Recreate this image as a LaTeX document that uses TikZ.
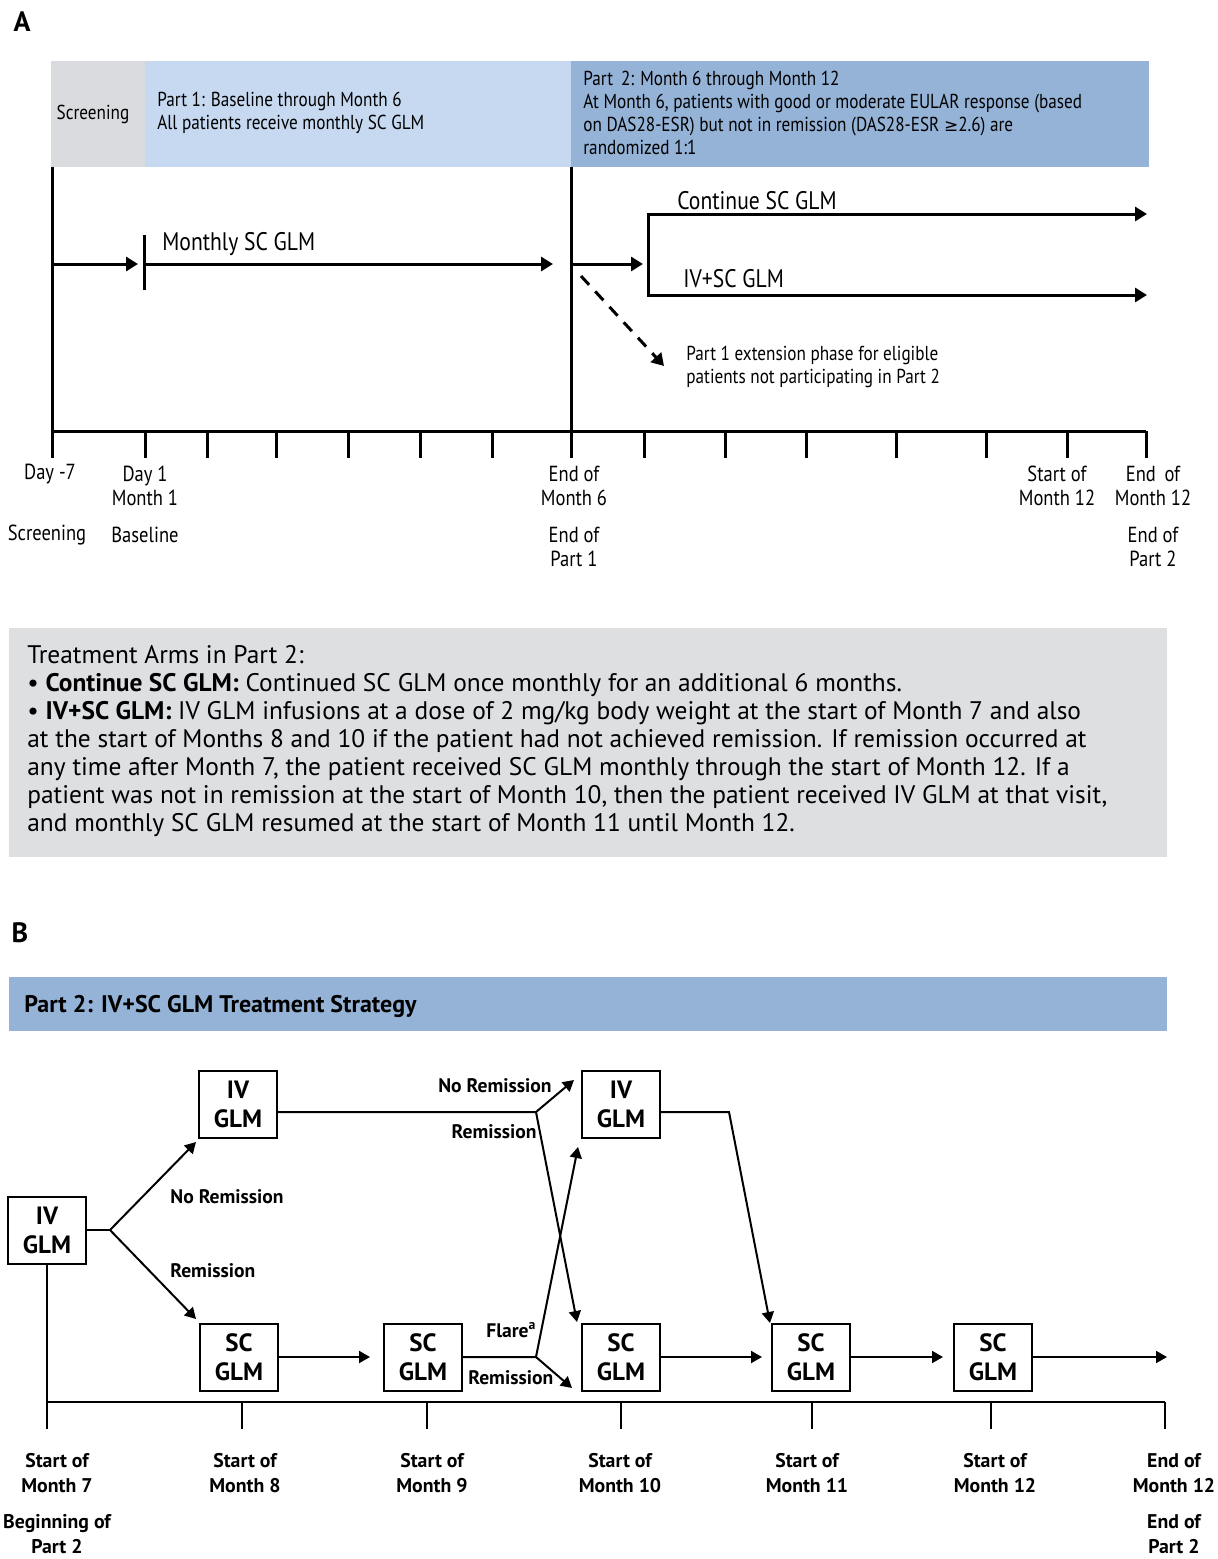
\documentclass[tikz,border=0pt]{standalone}
\usepackage{fontspec}
\setmainfont{PT Sans}[FakeStretch=0.85]
\newfontfamily\widefont{PT Sans}
\newfontfamily\symbfont{DejaVu Sans}
\usetikzlibrary{arrows.meta,positioning}
\definecolor{scrgray}{RGB}{217,219,222}
\definecolor{partone}{RGB}{198,217,240}
\definecolor{parttwo}{RGB}{149,179,215}
\definecolor{notegray}{RGB}{221,223,225}

\begin{document}
\begin{tikzpicture}[
    x=0.5pt, y=-0.5pt,
    thk/.style={line width=1.5pt},
    arrA/.style={thk, -{Triangle[length=6pt,width=7pt]}},
    lineB/.style={line width=1pt},
    arrB/.style={lineB, -{Triangle[length=5.5pt,width=6pt]}},
    box/.style={draw, line width=1pt, fill=white, minimum width=39pt, minimum height=33.5pt,
        align=center, inner sep=0pt, font=\widefont\fontsize{12.5}{14.5}\selectfont\bfseries},
    hdr/.style={inner sep=0pt, align=left, font=\fontsize{10.1}{11.5}\selectfont},
    big/.style={inner sep=0pt, font=\fontsize{12.7}{14}\selectfont},
    ticklbl/.style={inner sep=0pt, align=center, font=\fontsize{10.9}{12.3}\selectfont},
    bticklbl/.style={inner sep=0pt, align=center, font=\widefont\fontsize{9.9}{12.3}\selectfont\bfseries},
    cond/.style={inner sep=0pt, font=\widefont\fontsize{9.8}{11}\selectfont\bfseries},
    panel/.style={inner sep=0pt, font=\widefont\fontsize{14}{16}\selectfont\bfseries}
]
\useasboundingbox (0,0) rectangle (1218,1559);

% ---------- panel A ----------
\node[panel] (pA) at (22,22) {A};

% phase bars
\fill[scrgray] (51,61) rectangle (145,167);
\fill[partone] (145,61) rectangle (571,167);
\fill[parttwo] (571,61) rectangle (1149,167);
\node[hdr] (scr) at (93,114) {Screening};
\node[hdr, anchor=west] (p1) at (157,113) {Part 1: Baseline through Month 6\\All patients receive monthly SC GLM};
\node[hdr, anchor=west] (p2) at (583,113) {Part\, 2: Month 6 through Month 12\\
    At Month 6, patients with good or moderate EULAR response (based\\
    on DAS28-ESR) but not in remission (DAS28-ESR {\symbfont\fontsize{8.5}{10}\selectfont ≥}2.6) are\\
    randomized 1:1};

% timeline
\coordinate (ax0) at (52,431);
\coordinate (ax1) at (1146,431);
\draw[thk] (52,167) -- (52,458);
\draw[thk] (571,167) -- (571,458);
\draw[thk] (ax0) -- (ax1);
\foreach \x [count=\i] in {145,207,276,348,420,492,644,725,806,896,986,1067,1146}
    \draw[thk] (\x,431) coordinate (t\i) -- (\x,458);

% part 1 arrows
\coordinate (s0) at (52,264);
\coordinate (b0) at (144,264);
\coordinate (e6) at (553,264);
\draw[arrA] (s0) -- ([xshift=-3pt]b0);
\draw[thk] (144,235) coordinate (bt) -- (144,290) coordinate (bb);
\draw[arrA] (b0) -- (e6);
\node[big, anchor=west] (msc) at (162,244) {Monthly SC GLM};

% part 2 arrows
\coordinate (m6) at (571,264);
\coordinate (sp) at (648,264);
\coordinate (cu) at (648,214);
\coordinate (iu) at (648,295);
\coordinate (ce) at (1147,214);
\coordinate (ie) at (1147,295);
\draw[arrA] (m6) -- ([xshift=-2.5pt]sp);
\draw[thk, {Triangle[length=6pt,width=7pt]}-{Triangle[length=6pt,width=7pt]}] (ce) -- (cu) -- (iu) -- (ie);
\node[big, anchor=west] (csc) at (677,201) {Continue SC GLM};
\node[big, anchor=west] (ivsc) at (683,279) {IV+SC GLM};

% extension
\coordinate (x0) at (581,276);
\coordinate (x1) at (664,366);
\draw[arrA, dash pattern=on 6pt off 4.5pt] (x0) -- (x1);
\node[hdr, anchor=west] (ext) at (686,367) {Part 1 extension phase for eligible\\patients not participating in Part 2};

% tick labels
\node[ticklbl] (l1) at (50,474) {Day -7};
\node[ticklbl] (l2) at (145,486) {Day 1\\Month 1};
\node[ticklbl] (l3) at (47,535) {Screening};
\node[ticklbl] (l4) at (145,535) {Baseline};
\node[ticklbl] (l5) at (574,486) {End of\\Month 6};
\node[ticklbl] (l6) at (574,547) {End of\\Part 1};
\node[ticklbl] (l7) at (1057,486) {Start of\\Month 12};
\node[ticklbl] (l8) at (1153,486) {End\, of\\Month 12};
\node[ticklbl] (l9) at (1153,547) {End of\\Part 2};

% treatment arms note
\fill[notegray] (9,628) rectangle (1167,857);
\node[inner sep=0pt, align=left, anchor=west, font=\widefont\fontsize{12.7}{13.95}\selectfont] (note) at (27,741)
    {Treatment Arms in Part 2:\\
    \textbullet\ \textbf{Continue SC GLM:} Continued SC GLM once monthly for an additional 6 months.\\
    \textbullet\ \textbf{IV+SC GLM:} IV GLM infusions at a dose of 2 mg/kg body weight at the start of Month 7 and also\\
    at the start of Months 8 and 10 if the patient had not achieved remission. If remission occurred at\\
    any time after Month 7, the patient received SC GLM monthly through the start of Month 12. If a\\
    patient was not in remission at the start of Month 10, then the patient received IV GLM at that visit,\\
    and monthly SC GLM resumed at the start of Month 11 until Month 12.};

% ---------- panel B ----------
\node[panel] (pB) at (20,933) {B};
\fill[parttwo] (9,977) rectangle (1167,1031);
\node[inner sep=0pt, anchor=west, font=\widefont\fontsize{12}{13}\selectfont\bfseries] (strat) at (24,1006)
    {Part 2: IV+SC GLM Treatment Strategy};

% bottom axis
\coordinate (bx0) at (47,1402);
\coordinate (bx1) at (1165,1402);
\draw[lineB] (bx0) -- (bx1);
\foreach \x [count=\i] in {47,242,427,621,812,991,1165}
    \draw[lineB] (\x,1402) coordinate (u\i) -- (\x,1429);

% junctions
\coordinate (j1) at (110,1230);
\coordinate (j2) at (536,1112);
\coordinate (j3) at (536,1357);
\coordinate (j4) at (729,1112);
\coordinate (n1) at (196,1142);
\coordinate (r1) at (196,1319);
\coordinate (n2) at (574,1080);
\coordinate (r2) at (577,1322);
\coordinate (f3) at (578,1147);
\coordinate (r3) at (572,1388);
\coordinate (g4) at (770,1323);
\coordinate (endB) at (1167,1357);

% boxes
\node[box] (iv1) at (47,1230) {IV\\GLM};
\node[box] (iv2) at (238,1104) {IV\\GLM};
\node[box] (iv3) at (621,1104) {IV\\GLM};
\node[box] (sc1) at (239,1357) {SC\\GLM};
\node[box] (sc2) at (423,1357) {SC\\GLM};
\node[box] (sc3) at (621,1357) {SC\\GLM};
\node[box] (sc4) at (811,1357) {SC\\GLM};
\node[box] (sc5) at (993,1357) {SC\\GLM};

% connectors
\draw[lineB] (iv1) -- (iv1 |- bx0);
\draw[lineB] (iv1) -- (j1);
\draw[arrB] (j1) -- (n1);
\draw[arrB] (j1) -- (r1);
\draw[arrB] (iv2.east |- j2) -- (j2) -- (n2);
\draw[arrB] (j2) -- (r2);
\draw[arrB] (sc1) -- ([xshift=-6.5pt]sc2.west);
\draw[arrB] (sc2) -- (j3) -- (f3);
\draw[arrB] (j3) -- (r3);
\draw[arrB] (iv3.east |- j4) -- (j4) -- (g4);
\draw[arrB] (sc3) -- ([xshift=-4.5pt]sc4.west);
\draw[arrB] (sc4) -- ([xshift=-5pt]sc5.west);
\draw[arrB] (sc5) -- (endB);

% condition labels
\node[cond, anchor=west] (c1) at (170,1197) {No Remission};
\node[cond, anchor=west] (c2) at (170,1271) {Remission};
\node[cond, anchor=east] (c3) at (552,1086) {No Remission};
\node[cond, anchor=east] (c4) at (537,1132) {Remission};
\node[cond, anchor=west] (c5) at (486,1330) {Flare\textsuperscript{a}};
\node[cond, anchor=west] (c6) at (468,1378) {Remission};

% axis labels
\node[bticklbl] (v1) at (57,1473) {Start of\\Month 7};
\node[bticklbl] (v2) at (57,1534) {Beginning of\\Part 2};
\node[bticklbl] (v3) at (245,1473) {Start of\\Month 8};
\node[bticklbl] (v4) at (432,1473) {Start of\\Month 9};
\node[bticklbl] (v5) at (620,1473) {Start of\\Month 10};
\node[bticklbl] (v6) at (807,1473) {Start of\\Month 11};
\node[bticklbl] (v7) at (995,1473) {Start of\\Month 12};
\node[bticklbl] (v8) at (1174,1473) {End of\\Month 12};
\node[bticklbl] (v9) at (1174,1534) {End of\\Part 2};
\end{tikzpicture}
\end{document}
